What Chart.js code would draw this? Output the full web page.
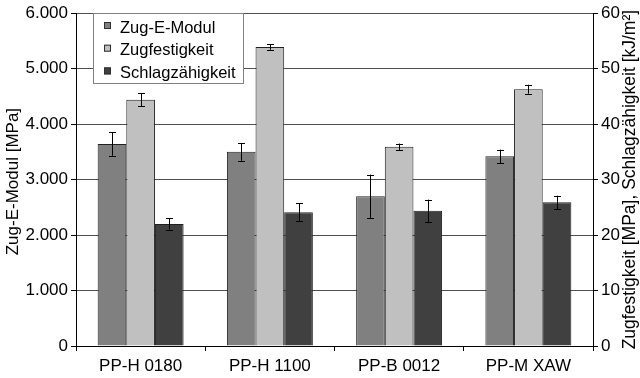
<!DOCTYPE html>
<html>
<head>
<meta charset="utf-8">
<script src="https://cdn.jsdelivr.net/npm/chart.js@4/dist/chart.umd.min.js"></script>
<style>
  html, body { margin: 0; padding: 0; background: #fff; }
  #wrap { width: 640px; height: 378px; position: relative; }
</style>
</head>
<body>
<div id="wrap"><canvas id="chart"></canvas></div>
<script>
const materials = ['PP-H 0180', 'PP-H 1100', 'PP-B 0012', 'PP-M XAW'];

const eModul = [3640, 3500, 2700, 3420];          // MPa, left axis
const eModulErr = [210, 160, 390, 120];

const zugfestigkeit = [44.4, 53.9, 35.9, 46.3];   // MPa, right axis
const zugfestigkeitErr = [1.2, 0.5, 0.6, 0.8];

const schlag = [22.0, 24.1, 24.4, 25.9];          // kJ/m², right axis
const schlagErr = [1.0, 1.6, 2.0, 1.2];

const leftTicks = [0, 1000, 2000, 3000, 4000, 5000, 6000];
const rightTicks = [0, 10, 20, 30, 40, 50, 60];

const leftTitle = 'Zug-E-Modul [MPa]';
const rightTitle = 'Zugfestigkeit [MPa], Schlagzähigkeit [kJ/m²]';

const FONT = '"Liberation Sans", Arial, sans-serif';

// German thousands separator: 6000 -> 6.000
function fmtDE(v) {
    return String(v).replace(/\B(?=(\d{3})+(?!\d))/g, '.');
}

// draws the +/- error whiskers on top of each bar
const errorBars = {
    id: 'errorBars',
    afterDatasetsDraw(chart) {
        const ctx = chart.ctx;
        ctx.save();
        ctx.strokeStyle = '#000';
        ctx.lineWidth = 1;
        chart.data.datasets.forEach((ds, i) => {
            const meta = chart.getDatasetMeta(i);
            const scale = chart.scales[ds.yAxisID];
            meta.data.forEach((bar, j) => {
                const v = ds.data[j], e = ds.errors[j];
                const x = Math.round(bar.x) + 0.5;
                const yt = scale.getPixelForValue(v + e);
                const yb = scale.getPixelForValue(v - e);
                ctx.beginPath();
                ctx.moveTo(x, yt); ctx.lineTo(x, yb);
                ctx.moveTo(x - 3.5, Math.round(yt) + 0.5); ctx.lineTo(x + 3.5, Math.round(yt) + 0.5);
                ctx.moveTo(x - 3.5, Math.round(yb) + 0.5); ctx.lineTo(x + 3.5, Math.round(yb) + 0.5);
                ctx.stroke();
            });
        });
        ctx.restore();
    }
};

// boxed legend inside the plot, top left
const boxLegend = {
    id: 'boxLegend',
    afterDraw(chart) {
        const ctx = chart.ctx;
        const area = chart.chartArea;
        const x0 = area.left + 17, y0 = 13, w = 150, h = 70;
        ctx.save();
        ctx.fillStyle = '#fff';
        ctx.fillRect(x0, y0, w, h);
        ctx.strokeStyle = '#808080';
        ctx.lineWidth = 1;
        ctx.strokeRect(x0 + 0.5, y0 + 0.5, w, h);
        ctx.font = '16.5px ' + FONT;
        ctx.textBaseline = 'middle';
        chart.data.datasets.forEach((ds, i) => {
            const cy = y0 + 14 + i * 22.7;
            ctx.fillStyle = ds.backgroundColor;
            ctx.fillRect(x0 + 11, cy - 5, 7, 7);
            ctx.strokeStyle = '#303030';
            ctx.strokeRect(x0 + 11.5, cy - 4.5, 6, 6);
            ctx.fillStyle = '#000';
            ctx.fillText(ds.label, x0 + 27, cy + 1);
        });
        ctx.restore();
    }
};

// both axis titles read bottom-to-top, as in the original
const axisTitles = {
    id: 'axisTitles',
    afterDraw(chart) {
        const ctx = chart.ctx;
        const area = chart.chartArea;
        const cy = (area.top + area.bottom) / 2;
        ctx.save();
        ctx.fillStyle = '#000';
        ctx.textAlign = 'center';
        ctx.textBaseline = 'middle';
        ctx.font = '17px ' + FONT;
        ctx.save();
        ctx.translate(13, cy + 2);
        ctx.rotate(-Math.PI / 2);
        ctx.fillText(leftTitle, 0, 0);
        ctx.restore();
        ctx.font = '17.5px ' + FONT;
        ctx.translate(630, cy);
        ctx.rotate(-Math.PI / 2);
        ctx.fillText(rightTitle, 0, 0);
        ctx.restore();
    }
};

const data = {
    labels: materials,
    datasets: [
        { label: 'Zug-E-Modul', data: eModul, errors: eModulErr, yAxisID: 'y',
          backgroundColor: '#808080', borderColor: '#202020', borderWidth: 1 },
        { label: 'Zugfestigkeit', data: zugfestigkeit, errors: zugfestigkeitErr, yAxisID: 'y1',
          backgroundColor: '#c0c0c0', borderColor: '#202020', borderWidth: 1 },
        { label: 'Schlagzähigkeit', data: schlag, errors: schlagErr, yAxisID: 'y1',
          backgroundColor: '#404040', borderColor: '#202020', borderWidth: 1 }
    ]
};

const config = {
    type: 'bar',
    data: data,
    options: {
        responsive: false,
        animation: false,
        devicePixelRatio: 1,
        categoryPercentage: 0.665,
        barPercentage: 1,
        layout: { padding: { top: 9, left: 0, right: 0, bottom: 0 } },
        plugins: {
            legend: { display: false },
            tooltip: { enabled: false }
        },
        scales: {
            x: {
                grid: { offset: true, drawOnChartArea: false, tickLength: 5, color: '#000' },
                border: { color: '#000', width: 1 },
                ticks: { color: '#000', font: { family: FONT, size: 17 }, padding: 5 },
                afterFit(s) { s.height = 32; }
            },
            y: {
                position: 'left',
                min: 0, max: 6000,
                afterBuildTicks(s) { s.ticks = leftTicks.map(v => ({ value: v })); },
                grid: { color: '#505050', tickColor: '#000', tickLength: 5 },
                border: { color: '#000', width: 1 },
                ticks: { color: '#000', font: { family: FONT, size: 17 }, padding: 3,
                         callback: v => fmtDE(v) },
                afterFit(s) { s.width = 76; }
            },
            y1: {
                position: 'right',
                min: 0, max: 60,
                afterBuildTicks(s) { s.ticks = rightTicks.map(v => ({ value: v })); },
                grid: { drawOnChartArea: false, color: '#000', tickLength: 5 },
                border: { color: '#000', width: 1 },
                ticks: { color: '#000', font: { family: FONT, size: 17 }, padding: 3 },
                afterFit(s) { s.width = 47; }
            }
        }
    },
    plugins: [errorBars, boxLegend, axisTitles]
};

const canvas = document.getElementById('chart');
canvas.width = 640;
canvas.height = 378;
new Chart(canvas, config);
</script>
</body>
</html>
